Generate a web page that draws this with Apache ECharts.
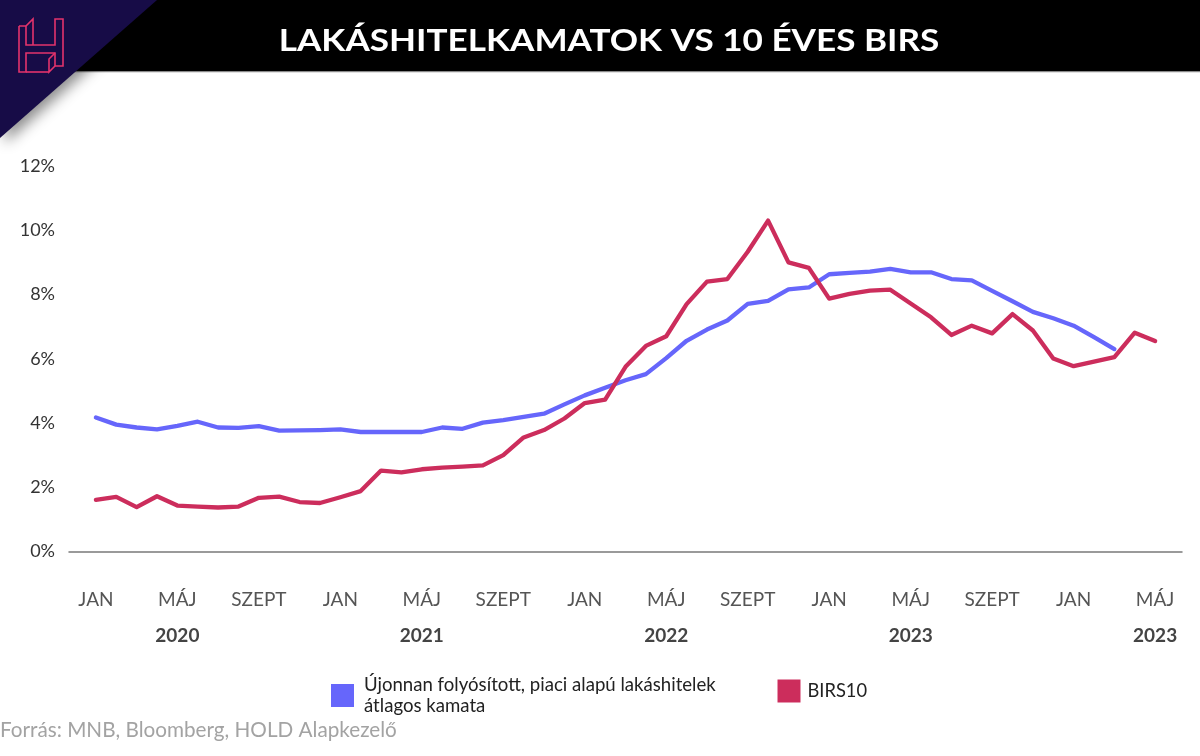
<!DOCTYPE html>
<html>
<head>
<meta charset="utf-8">
<script src="https://cdn.jsdelivr.net/npm/echarts@6/dist/echarts.min.js"></script>
<style>
html,body{margin:0;padding:0;background:#fff;}
#chart{width:1200px;height:756px;}
</style>
</head>
<body>
<div id="chart"></div>
<script>
// ---- data ----
const categories = [
  '2020-01','2020-02','2020-03','2020-04','2020-05','2020-06','2020-07','2020-08','2020-09','2020-10','2020-11','2020-12',
  '2021-01','2021-02','2021-03','2021-04','2021-05','2021-06','2021-07','2021-08','2021-09','2021-10','2021-11','2021-12',
  '2022-01','2022-02','2022-03','2022-04','2022-05','2022-06','2022-07','2022-08','2022-09','2022-10','2022-11','2022-12',
  '2023-01','2023-02','2023-03','2023-04','2023-05','2023-06','2023-07','2023-08','2023-09','2023-10','2023-11','2023-12',
  '2024-01','2024-02','2024-03','2024-04','2024-05'
];
const mortgageRate = [4.17,3.95,3.86,3.80,3.91,4.04,3.86,3.85,3.90,3.76,3.77,3.78,3.80,3.72,3.72,3.72,3.72,3.86,3.82,4.01,
  4.09,4.19,4.29,4.58,4.86,5.10,5.33,5.52,6.02,6.56,6.91,7.19,7.71,7.80,8.16,8.22,8.63,8.67,8.71,8.80,
  8.69,8.69,8.48,8.44,8.11,7.79,7.46,7.26,7.03,6.67,6.30];
const birs10 = [1.61,1.70,1.38,1.72,1.43,1.40,1.37,1.40,1.67,1.71,1.54,1.51,1.69,1.88,2.52,2.46,2.56,2.61,2.64,2.68,
  3.00,3.55,3.78,4.14,4.62,4.73,5.75,6.40,6.70,7.70,8.40,8.48,9.33,10.30,9.00,8.83,7.87,8.02,8.12,8.15,
  7.72,7.29,6.74,7.03,6.79,7.39,6.88,6.01,5.77,5.91,6.05,6.81,6.55];
const tickIndex = [0,4,8,12,16,20,24,28,32,36,40,44,48,52];
const tickLabels = ['JAN','MÁJ','SZEPT','JAN','MÁJ','SZEPT','JAN','MÁJ','SZEPT','JAN','MÁJ','SZEPT','JAN','MÁJ'];
const tickYears  = ['','2020','','','2021','','','2022','','','2023','','','2023'];
const yTicks = [0,2,4,6,8,10,12];
const seriesNames = ['Újonnan folyósított, piaci alapú lakáshitelek\nátlagos kamata','BIRS10'];
const titleText = 'LAKÁSHITELKAMATOK VS 10 ÉVES BIRS';
const sourceText = 'Forrás: MNB, Bloomberg, HOLD Alapkezelő';

const BLUE = '#6666fb';
const RED = '#cc2d5c';
const FONT = 'Lato, "Noto Sans", sans-serif';

const chart = echarts.init(document.getElementById('chart'), null, {renderer:'canvas'});

const option = {
  animation: false,
  backgroundColor: '#fff',
  grid: {left: 69, right: 18, top: 166, bottom: 204.5, containLabel: false},
  xAxis: {
    type: 'value',
    min: -1.32,
    max: categories.length - 1 + 1.32,
    axisLine: {show: true, lineStyle: {color: '#7a7a7a', width: 1.5}},
    axisTick: {show: false},
    splitLine: {show: false},
    axisLabel: {
      customValues: tickIndex,
      margin: 30,
      formatter: function (v) {
        const k = tickIndex.indexOf(Math.round(v));
        if (k < 0) return '';
        let s = '{m|' + tickLabels[k] + '}';
        if (tickYears[k]) s += '\n{y|' + tickYears[k] + '}';
        return s;
      },
      rich: {
        m: {fontFamily: FONT, fontSize: 19, color: '#555', lineHeight: 36},
        y: {fontFamily: FONT, fontSize: 19, fontWeight: 'bold', color: '#444', lineHeight: 36}
      }
    }
  },
  yAxis: {
    type: 'value',
    min: yTicks[0],
    max: yTicks[yTicks.length - 1],
    interval: 2,
    axisLine: {show: false},
    axisTick: {show: false},
    splitLine: {show: false},
    axisLabel: {
      formatter: '{value}%',
      margin: 14,
      fontFamily: FONT,
      fontSize: 18,
      color: '#333'
    }
  },
  legend: [
    {
      data: [seriesNames[0]],
      left: 331, top: 675, padding: 0,
      orient: 'horizontal',
      icon: 'rect', itemWidth: 23, itemHeight: 23,
      selectedMode: false,
      itemStyle: {borderWidth: 0},
      textStyle: {fontFamily: FONT, fontSize: 18.6, color: '#222', lineHeight: 20.5, padding: [0,0,0,5]}
    },
    {
      data: [seriesNames[1]],
      left: 777.5, top: 679.5, padding: 0,
      orient: 'horizontal',
      icon: 'rect', itemWidth: 23, itemHeight: 23,
      selectedMode: false,
      itemStyle: {borderWidth: 0},
      textStyle: {fontFamily: FONT, fontSize: 18.3, color: '#222', padding: [0,0,0,2]}
    }
  ],
  series: [
    {
      name: seriesNames[0],
      type: 'line',
      data: mortgageRate.map((v, i) => [i, v]),
      showSymbol: false,
      symbol: 'none',
      lineStyle: {color: BLUE, width: 4.3, join: 'round', cap: 'round'},
      itemStyle: {color: BLUE},
      z: 2
    },
    {
      name: seriesNames[1],
      type: 'line',
      data: birs10.map((v, i) => [i, v]),
      showSymbol: false,
      symbol: 'none',
      lineStyle: {color: RED, width: 4.3, join: 'round', cap: 'round'},
      itemStyle: {color: RED},
      z: 3
    }
  ],
  graphic: [
    {type: 'rect', shape: {x: 0, y: 0, width: 1200, height: 71}, style: {fill: '#000'}, z: 10},
    {type: 'rect', shape: {x: 0, y: 71, width: 1200, height: 1.2}, style: {fill: '#8a8a8a'}, z: 10},
    {
      type: 'polygon', z: 11,
      shape: {points: [[0,0],[157,0],[0,138]]},
      style: {fill: '#170c47', shadowBlur: 14, shadowColor: 'rgba(0,0,0,0.45)', shadowOffsetX: 5, shadowOffsetY: 5}
    },
    {
      type: 'polyline', z: 12,
      shape: {points: [[19,26],[26,26],[26,45],[55,45],[55,19],[63,19],[63,66],[55,66],[55,53],[26,53],[26,72],[19,72],[19,26]]},
      style: {stroke: '#e3336c', lineWidth: 1.6, fill: null}
    },
    {
      type: 'polyline', z: 12,
      shape: {points: [[26,26],[33,19],[33,45]]},
      style: {stroke: '#e3336c', lineWidth: 1.6, fill: null}
    },
    {
      type: 'polyline', z: 12,
      shape: {points: [[55,53],[49,59],[49,72],[55,66]]},
      style: {stroke: '#e3336c', lineWidth: 1.6, fill: null}
    },
    {
      type: 'polyline', z: 12,
      shape: {points: [[26,72],[49,72]]},
      style: {stroke: '#e3336c', lineWidth: 1.6, fill: null}
    },
    {
      type: 'text', z: 13,
      x: 609, y: 41, scaleX: 1.17, scaleY: 1,
      style: {
        text: titleText, x: 0, y: 0,
        align: 'center', verticalAlign: 'middle',
        fontFamily: FONT, fontSize: 30, fontWeight: 'bold', fill: '#fff'
      }
    },
    {
      type: 'text', z: 13,
      style: {
        text: sourceText, x: 0, y: 730,
        align: 'left', verticalAlign: 'middle',
        fontFamily: FONT, fontSize: 20.7, fill: '#a3a3a3'
      }
    }
  ]
};
chart.setOption(option);
</script>
</body>
</html>
